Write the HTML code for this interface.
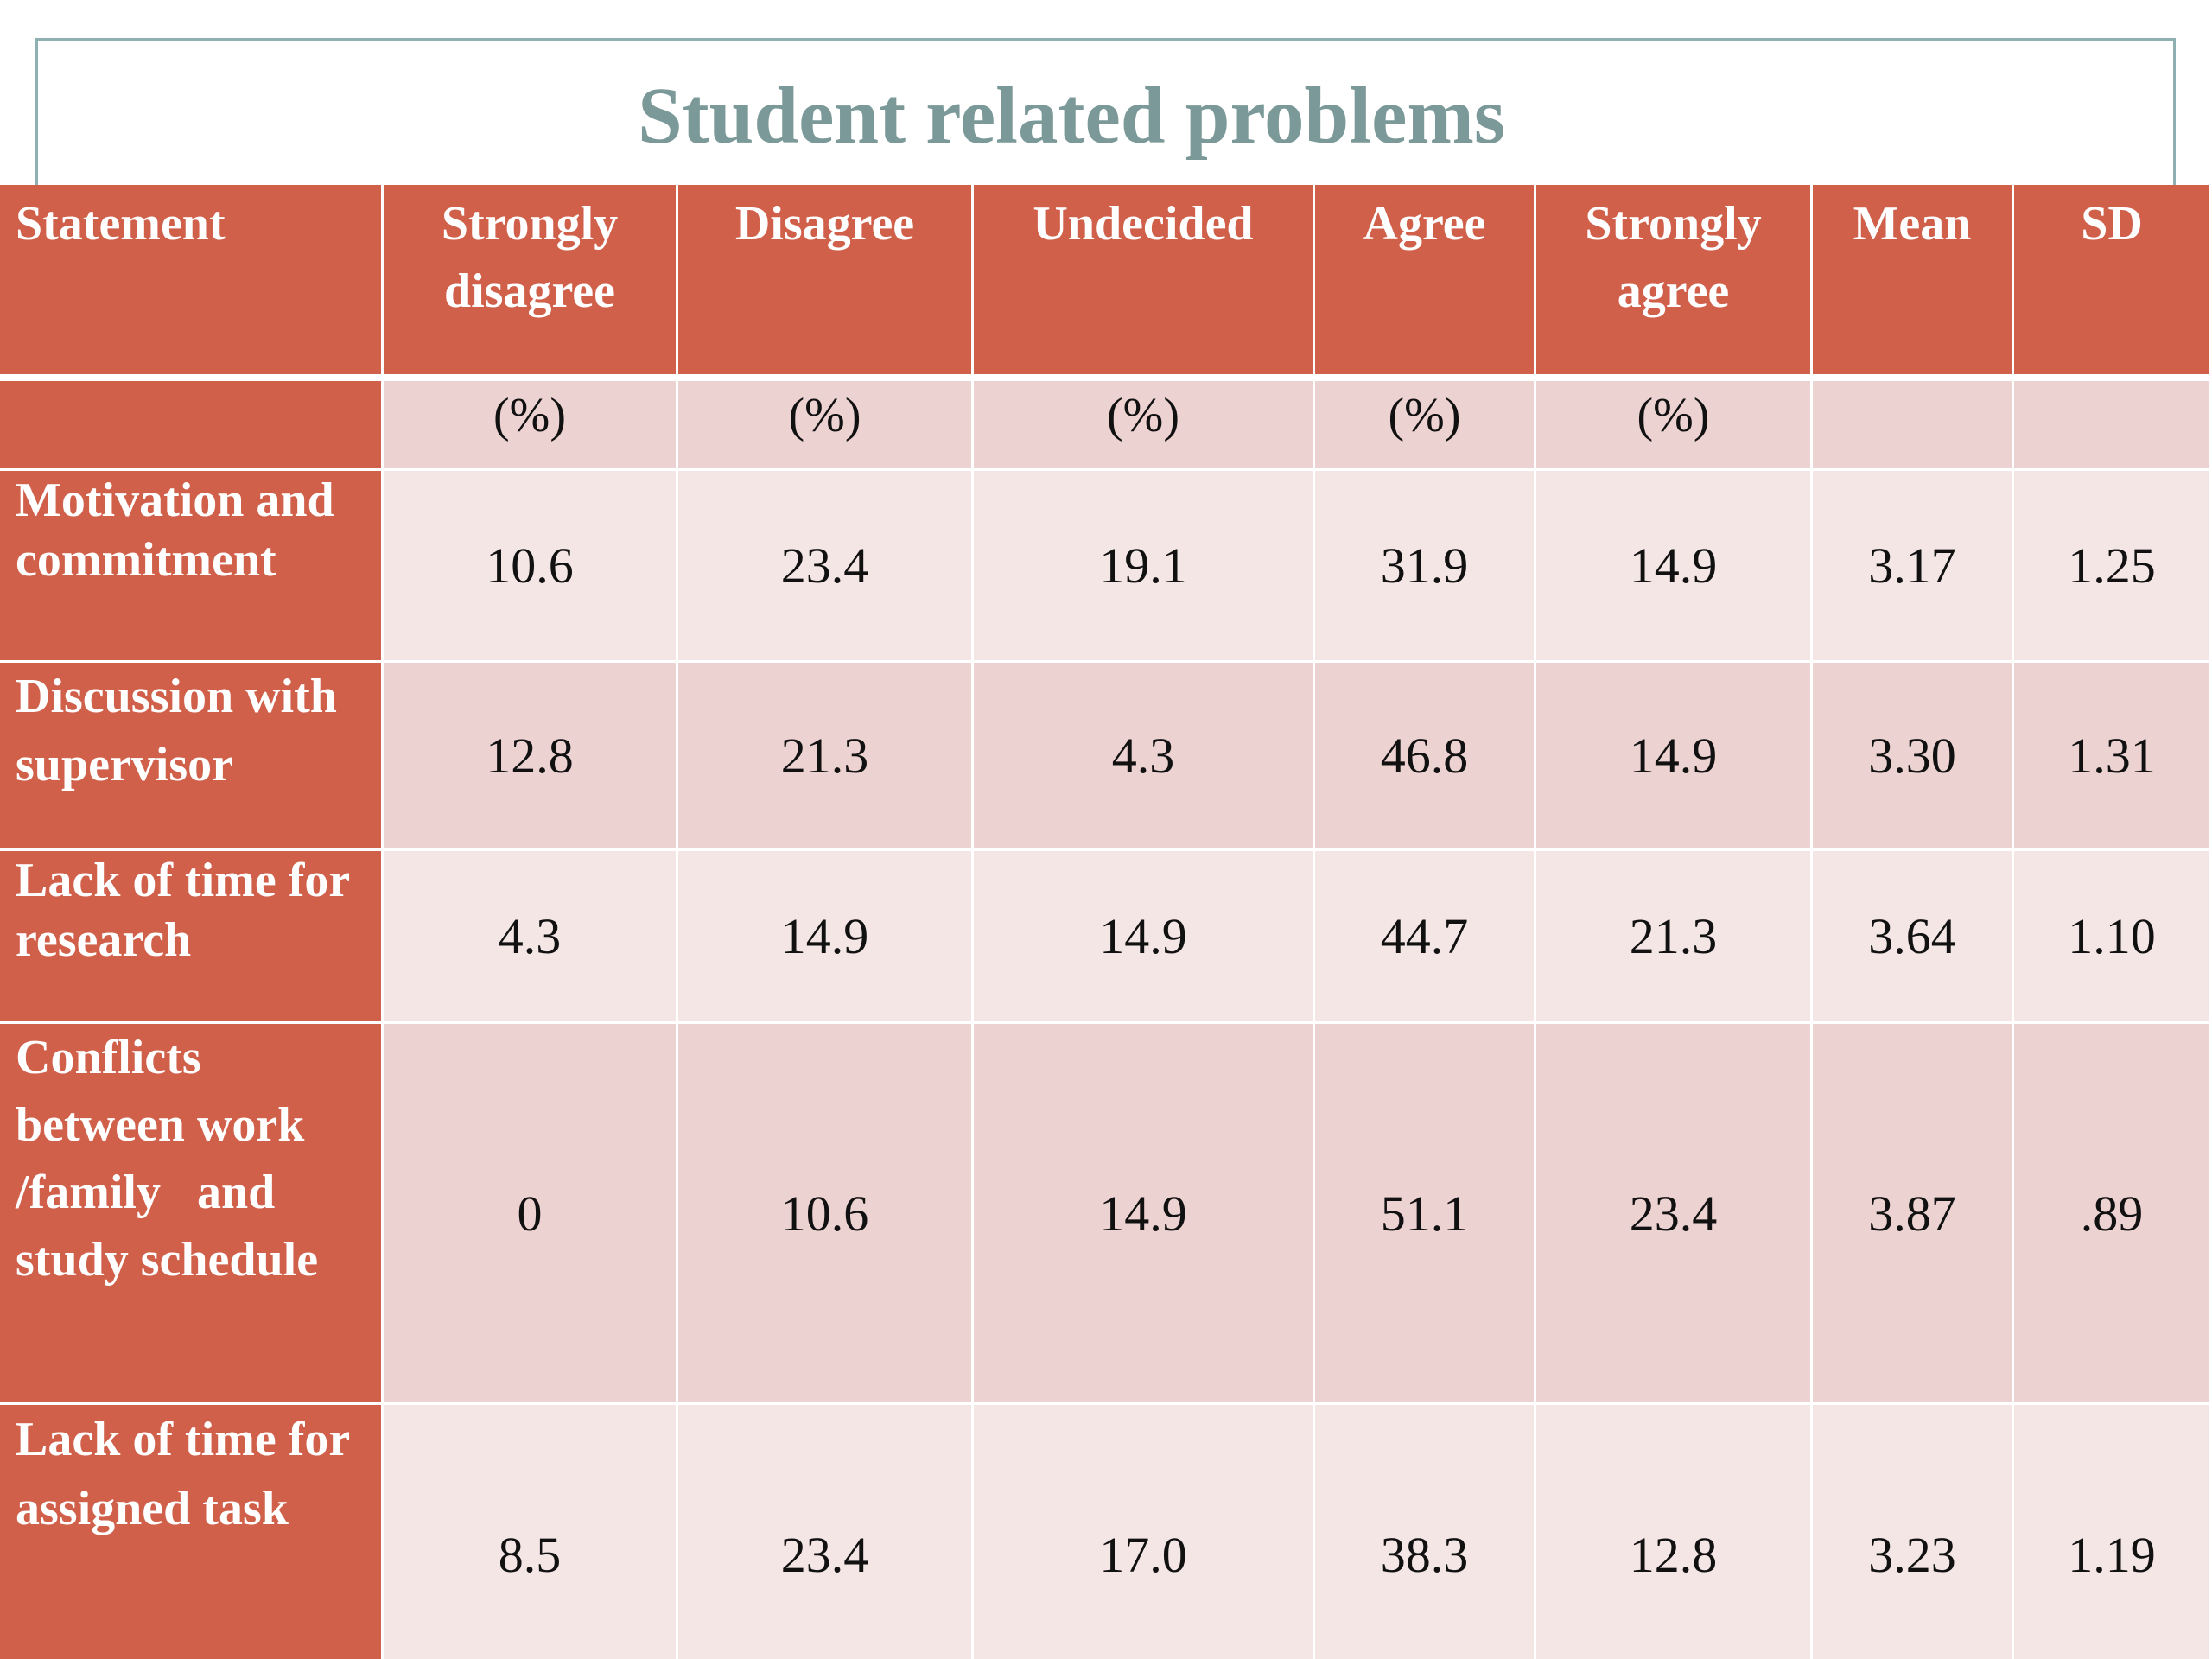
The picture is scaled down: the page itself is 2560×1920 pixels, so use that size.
<!DOCTYPE html>
<html><head><meta charset="utf-8">
<style>
html,body{margin:0;padding:0;background:#fff;}
#root{position:relative;width:2560px;height:1920px;overflow:hidden;background:#fff;font-family:"Liberation Serif",serif;}
.c{position:absolute;box-sizing:border-box;}
.hd{background:#d0604a;color:#fff;font-weight:bold;font-size:56px;line-height:78px;text-align:center;padding-top:6px;}
.lab{background:#d0604a;color:#fff;font-weight:bold;font-size:56px;text-align:left;padding-left:18px;}
.num{color:#111;font-size:58px;display:flex;align-items:center;justify-content:center;}
.light{background:#f5e6e6;}
.dark{background:#ecd2d1;}
</style></head>
<body>
<div id="root">
  <div class="c" style="left:41px;top:44px;width:2477px;height:200px;border:3px solid #8fb0b0;border-bottom:none;"></div>
  <div class="c" style="left:0;top:80px;width:2480px;text-align:center;font-weight:bold;font-size:93px;color:#7b9998;line-height:110px;">Student related problems</div>
</div>
<script>
const colEdges=[0,444,785,1127,1522,1778,2098,2331,2560];
const rowEdges=[[214,433],[441,542],[545,764],[767,981],[985,1182],[1185,1623],[1626,1920]];
const headers=["Statement","Strongly<br>disagree","Disagree","Undecided","Agree","Strongly<br>agree","Mean","SD"];
const units=["","(%)","(%)","(%)","(%)","(%)","",""];
const statements=["Motivation and<br>commitment","Discussion with<br>supervisor","Lack of time for<br>research","Conflicts<br>between work<br>/family &nbsp;&nbsp;and<br>study schedule","Lack of time for<br>assigned task"];
const stronglyDisagree=["10.6","12.8","4.3","0","8.5"];
const disagree=["23.4","21.3","14.9","10.6","23.4"];
const undecided=["19.1","4.3","14.9","14.9","17.0"];
const agree=["31.9","46.8","44.7","51.1","38.3"];
const stronglyAgree=["14.9","14.9","21.3","23.4","12.8"];
const means=["3.17","3.30","3.64","3.87","3.23"];
const sds=["1.25","1.31","1.10",".89","1.19"];
const root=document.getElementById('root');
function cell(ci,ri,cls,html,name){
  const d=document.createElement('div');
  d.className='c '+cls;
  const l=colEdges[ci]+(ci>0?0:0), r=colEdges[ci+1]-3;
  d.style.left=l+'px';d.style.width=(r-l)+'px';
  d.style.top=rowEdges[ri][0]+'px';d.style.height=(rowEdges[ri][1]-rowEdges[ri][0])+'px';
  d.innerHTML=html;
  
  
  root.appendChild(d);
  return d;
}
headers.forEach((h,i)=>{
  const d=cell(i,0,'hd',h,'header-'+i);
  if(i===0){d.style.textAlign='left';d.style.paddingLeft='18px';}
});
units.forEach((u,i)=>{
  const d=cell(i,1,i===0?'lab':'num dark',u,'unit-'+i);
  if(i>0){d.style.alignItems='flex-start';d.style.paddingTop='8px';d.style.fontSize='56px';}
});
const cols=[stronglyDisagree,disagree,undecided,agree,stronglyAgree,means,sds];
statements.forEach((s,r)=>{
  const ri=r+2;
  const lab=cell(0,ri,'lab',s,'row-label-'+r);
  lab.style.lineHeight=(r===3?78:(r===0||r===2?69:r===1?79:80))+'px';
  lab.style.paddingTop='0px';
  const shade=(r%2===0)?'light':'dark';
  cols.forEach((arr,ci)=>{
    const d=cell(ci+1,ri,'num '+shade,arr[r],'value-r'+r+'-c'+ci);
    if(r===4){d.style.alignItems='flex-start';d.style.paddingTop='140px';}
  });
});
</script>
</body></html>
